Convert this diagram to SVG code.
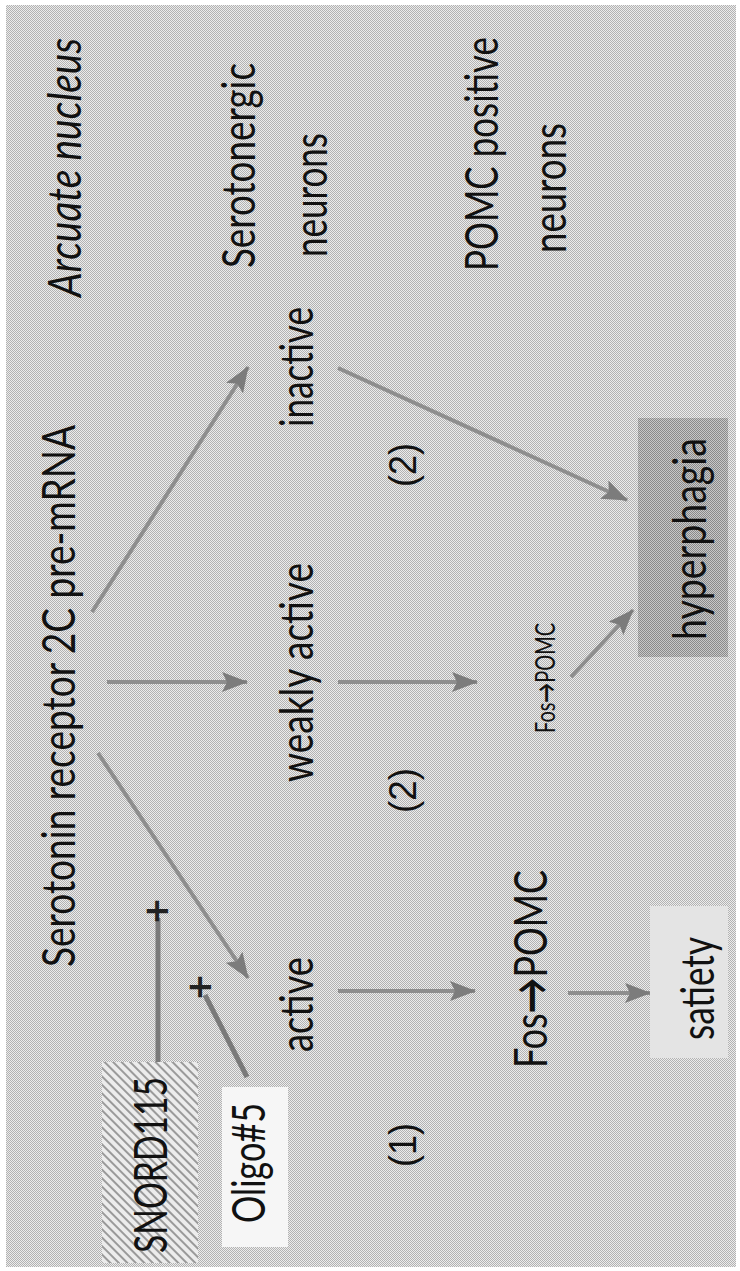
<svg xmlns="http://www.w3.org/2000/svg" width="740" height="1271" viewBox="0 0 740 1271">
<style>
.t{font-family:Lato,"Open Sans","Liberation Sans",sans-serif;font-size:46px;fill:#111}
.it{font-style:italic}
.num{font-family:"Liberation Sans",Arial,sans-serif;font-size:38px;fill:#111}
.sm{font-size:26px}
.ar{font-weight:bold}
.plus{font-family:Lato,"Liberation Sans",sans-serif;font-size:42px;font-weight:bold;fill:#222;text-anchor:middle}
.ln{stroke:#8e8e8e;stroke-width:4;fill:none}
.arr{marker-end:url(#ah)}
.inh{stroke:#7a7a7a;stroke-width:5;fill:none}
</style>
<defs>
<pattern id="bg" width="2" height="2" patternUnits="userSpaceOnUse">
<rect width="2" height="2" fill="#ececec"/>
<rect width="1" height="1" fill="#b2b2b2"/>
<rect x="1" y="1" width="1" height="1" fill="#b2b2b2"/>
</pattern>
<pattern id="dark" width="2" height="2" patternUnits="userSpaceOnUse">
<rect width="2" height="2" fill="#c8c8c8"/>
<rect width="1" height="1" fill="#8a8a8a"/>
<rect x="1" y="1" width="1" height="1" fill="#8a8a8a"/>
</pattern>
<pattern id="hatch" width="6" height="6" patternUnits="userSpaceOnUse" patternTransform="rotate(-45)">
<rect width="6" height="6" fill="#ececec"/>
<rect width="2" height="6" fill="#9a9a9a"/>
</pattern>
<marker id="ah" markerUnits="userSpaceOnUse" markerWidth="26" markerHeight="20" viewBox="0 0 26 20" refX="25" refY="10" orient="auto">
<path d="M0,0 L26,10 L0,20 L5,10 z" fill="#7c7c7c"/>
</marker>
</defs>
<rect width="740" height="1271" fill="#ffffff"/>
<rect x="6" y="5" width="730" height="1262" fill="url(#bg)"/>

<g id="connectors">
<line class="ln arr" x1="92" y1="612" x2="248" y2="367"/>
<line class="ln arr" x1="338" y1="368" x2="627" y2="500"/>
<line class="ln arr" x1="107" y1="682" x2="247" y2="682"/>
<line class="ln arr" x1="338" y1="682" x2="477" y2="682"/>
<line class="ln arr" x1="571" y1="677" x2="633" y2="610"/>
<line class="ln arr" x1="98" y1="753" x2="248" y2="978"/>
<line class="ln arr" x1="338" y1="991" x2="475" y2="991"/>
<line class="ln arr" x1="568" y1="993" x2="650" y2="993"/>
<line class="inh" x1="158" y1="1078" x2="158" y2="918"/>
<line class="inh" x1="247" y1="1077" x2="205" y2="995"/>
<text class="plus" transform="translate(172,911) rotate(-90)">+</text>
<text class="plus" transform="translate(215,987) rotate(-90)">+</text>
</g>

<g id="arcuate"><text class="t it" transform="translate(81,297) rotate(-90)" textLength="259" lengthAdjust="spacingAndGlyphs">Arcuate nucleus</text></g>
<g id="receptor"><text class="t" transform="translate(75,967) rotate(-90)" textLength="542" lengthAdjust="spacingAndGlyphs">Serotonin receptor 2C pre-mRNA</text></g>
<g id="serotonergic">
<text class="t" transform="translate(255,268) rotate(-90)" textLength="205" lengthAdjust="spacingAndGlyphs">Serotonergic</text>
<text class="t" transform="translate(327,257) rotate(-90)" textLength="124" lengthAdjust="spacingAndGlyphs">neurons</text>
</g>
<g id="pomc-neurons">
<text class="t" transform="translate(498,271) rotate(-90)" textLength="234" lengthAdjust="spacingAndGlyphs">POMC positive</text>
<text class="t" transform="translate(566,253) rotate(-90)" textLength="130" lengthAdjust="spacingAndGlyphs">neurons</text>
</g>
<g id="inactive"><text class="t" transform="translate(313,427) rotate(-90)" textLength="120" lengthAdjust="spacingAndGlyphs">inactive</text></g>
<g id="weakly-active"><text class="t" transform="translate(313,782) rotate(-90)" textLength="219" lengthAdjust="spacingAndGlyphs">weakly active</text></g>
<g id="active"><text class="t" transform="translate(313,1052) rotate(-90)" textLength="95" lengthAdjust="spacingAndGlyphs">active</text></g>
<g id="label-2a"><text class="num" transform="translate(416,487) rotate(-90)" textLength="44" lengthAdjust="spacingAndGlyphs">(2)</text></g>
<g id="label-2b"><text class="num" transform="translate(416,813) rotate(-90)" textLength="45" lengthAdjust="spacingAndGlyphs">(2)</text></g>
<g id="label-1"><text class="num" transform="translate(416,1167) rotate(-90)" textLength="44" lengthAdjust="spacingAndGlyphs">(1)</text></g>
<g id="fos-pomc-small"><text class="t sm" transform="translate(555,733) rotate(-90)" textLength="110" lengthAdjust="spacingAndGlyphs">Fos<tspan class="ar">→</tspan>POMC</text></g>
<g id="fos-pomc"><text class="t" transform="translate(547,1068) rotate(-90)" textLength="198" lengthAdjust="spacingAndGlyphs">Fos<tspan class="ar">→</tspan>POMC</text></g>
<g id="hyperphagia">
<rect x="638" y="418" width="90" height="239" fill="url(#dark)"/>
<text class="t" transform="translate(706,640) rotate(-90)" textLength="202" lengthAdjust="spacingAndGlyphs">hyperphagia</text>
</g>
<g id="satiety">
<rect x="650" y="906" width="78" height="152" fill="#e4e4e4"/>
<text class="t" transform="translate(714,1040) rotate(-90)" textLength="103" lengthAdjust="spacingAndGlyphs">satiety</text>
</g>
<g id="snord115">
<rect x="102" y="1062" width="96" height="201" fill="url(#hatch)"/>
<text class="t" transform="translate(167,1253) rotate(-90)" textLength="176" lengthAdjust="spacingAndGlyphs">SNORD115</text>
</g>
<g id="oligo5">
<rect x="222" y="1087" width="66" height="160" fill="#f6f6f6"/>
<text class="t" transform="translate(265,1223) rotate(-90)" textLength="120" lengthAdjust="spacingAndGlyphs">Oligo#5</text>
</g>
</svg>
